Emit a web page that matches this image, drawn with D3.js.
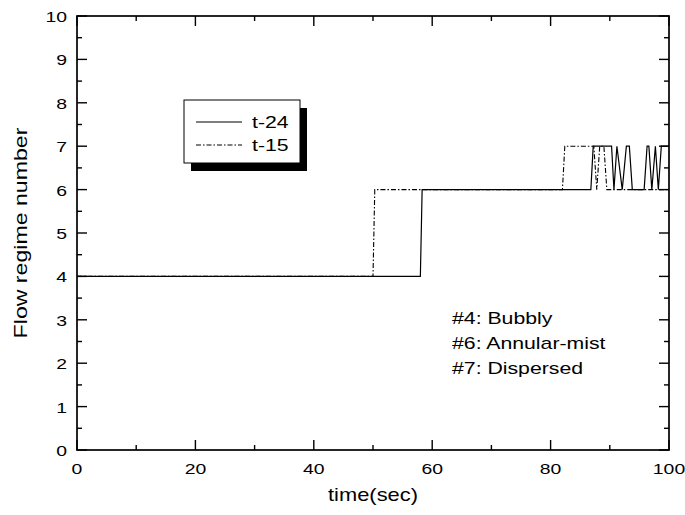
<!DOCTYPE html>
<html>
<head>
<meta charset="utf-8">
<title>Flow regime number</title>
<script src="https://d3js.org/d3.v7.min.js"></script>
<style type="text/css">
	body { margin: 0; background: #fff; }
	svg { display: block; font-family: Arial, "Liberation Sans", sans-serif; }
</style>
</head>
<body>
<div id="chart"></div>
<script type="text/javascript">

	// t-24 : [time (sec), flow regime number]
	var t24 = [[0, 4], [58.0, 4], [58.3, 6], [86.8, 6], [87.2, 7], [90.3, 7], [90.7, 6],
		[91.2, 7], [92.1, 6], [92.8, 7], [93.3, 7], [93.8, 6], [95.8, 6], [96.3, 7],
		[96.6, 7], [97.1, 6], [97.7, 7], [98.2, 6], [98.7, 7], [100, 7]];

	// t-15
	var t15 = [[0, 4], [50.0, 4], [50.3, 6], [82.0, 6], [82.4, 7], [87.3, 7], [87.8, 6],
		[88.3, 7], [89.0, 7], [89.5, 6], [100, 6]];

	var xTicks = [0, 20, 40, 60, 80, 100];
	var yTicks = [0, 1, 2, 3, 4, 5, 6, 7, 8, 9, 10];
	var seriesNames = ["t-24", "t-15"];
	var notes = ["#4: Bubbly", "#6: Annular-mist", "#7: Dispersed"];

	const width = 685, height = 515;
	const mLeft = 77, mRight = 669, mTop = 16, mBottom = 450;
	const stretch = 1.25; // the original's lettering is wider than Arial

	const x = d3.scaleLinear().domain([0, 100]).range([mLeft, mRight]);
	const y = d3.scaleLinear().domain([0, 10]).range([mBottom, mTop]);

	const svg = d3.select("#chart").append("svg")
		.attr("width", width)
		.attr("height", height);

	// text helper, positioned through a transform so it can be widened
	function label(parent, tx, ty, str, size, anchor, rot) {
		return parent.append("text")
			.attr("transform", "translate(" + tx + "," + ty + ")" + (rot ? " rotate(" + rot + ")" : "") + " scale(" + stretch + ",1)")
			.attr("text-anchor", anchor || "start")
			.attr("font-size", size + "px")
			.text(str);
	}

	// frame
	svg.append("rect")
		.attr("x", mLeft).attr("y", mTop)
		.attr("width", mRight - mLeft).attr("height", mBottom - mTop)
		.attr("fill", "none").attr("stroke", "#000").attr("stroke-width", 1.7);

	//ticks pointing inwards on all four sides
	function ticksX(vals, len) {
		vals.forEach(function (v) {
			svg.append("line").attr("x1", x(v)).attr("x2", x(v))
				.attr("y1", mBottom).attr("y2", mBottom - len)
				.attr("stroke", "#000").attr("stroke-width", 1.4);
			svg.append("line").attr("x1", x(v)).attr("x2", x(v))
				.attr("y1", mTop).attr("y2", mTop + len)
				.attr("stroke", "#000").attr("stroke-width", 1.4);
		});
	}
	function ticksY(vals, len) {
		vals.forEach(function (v) {
			svg.append("line").attr("x1", mLeft).attr("x2", mLeft + len)
				.attr("y1", y(v)).attr("y2", y(v))
				.attr("stroke", "#000").attr("stroke-width", 1.4);
			svg.append("line").attr("x1", mRight).attr("x2", mRight - len)
				.attr("y1", y(v)).attr("y2", y(v))
				.attr("stroke", "#000").attr("stroke-width", 1.4);
		});
	}
	ticksX(xTicks, 10);
	ticksX(d3.range(10, 100, 20), 5);
	ticksY(yTicks, 10);
	ticksY(d3.range(0.5, 10, 1), 5);

	// tick labels
	xTicks.forEach(function (d) {
		label(svg, x(d), mBottom + 24, d, 15.5, "middle");
	});
	yTicks.forEach(function (d) {
		label(svg, mLeft - 10, y(d) + 6, d, 15.5, "end");
	});

	// axis titles
	label(svg, (mLeft + mRight) / 2, 501, "time(sec)", 17.5, "middle");
	label(svg, 27, (mTop + mBottom) / 2, "Flow regime number", 18.5, "middle", -90);

	// data lines
	const line = d3.line().x(d => x(d[0])).y(d => y(d[1]));
	svg.append("path").datum(t15)
		.attr("d", line).attr("fill", "none")
		.attr("stroke", "#000").attr("stroke-width", 1.1)
		.attr("stroke-dasharray", "5,2,1.5,2");
	svg.append("path").datum(t24)
		.attr("d", line).attr("fill", "none")
		.attr("stroke", "#000").attr("stroke-width", 1.2);

	// legend with shadow
	const legend = svg.append("g").attr("transform", "translate(184,100)");
	legend.append("rect").attr("x", 7).attr("y", 8)
		.attr("width", 116).attr("height", 63).attr("fill", "#000");
	legend.append("rect").attr("x", 0).attr("y", 0)
		.attr("width", 116).attr("height", 63)
		.attr("fill", "#fff").attr("stroke", "#000").attr("stroke-width", 1);
	seriesNames.forEach(function (name, i) {
		legend.append("line").attr("x1", 12).attr("x2", 58)
			.attr("y1", 22 + i * 23).attr("y2", 22 + i * 23)
			.attr("stroke", "#000").attr("stroke-width", 1.1)
			.attr("stroke-dasharray", i == 1 ? "5,2,1.5,2" : null);
		label(legend, 68, 28 + i * 23, name, 17);
	});

	// regime notes
	notes.forEach(function (d, i) {
		label(svg, 452, 324 + i * 25, d, 17);
	});

</script>
</body>
</html>
